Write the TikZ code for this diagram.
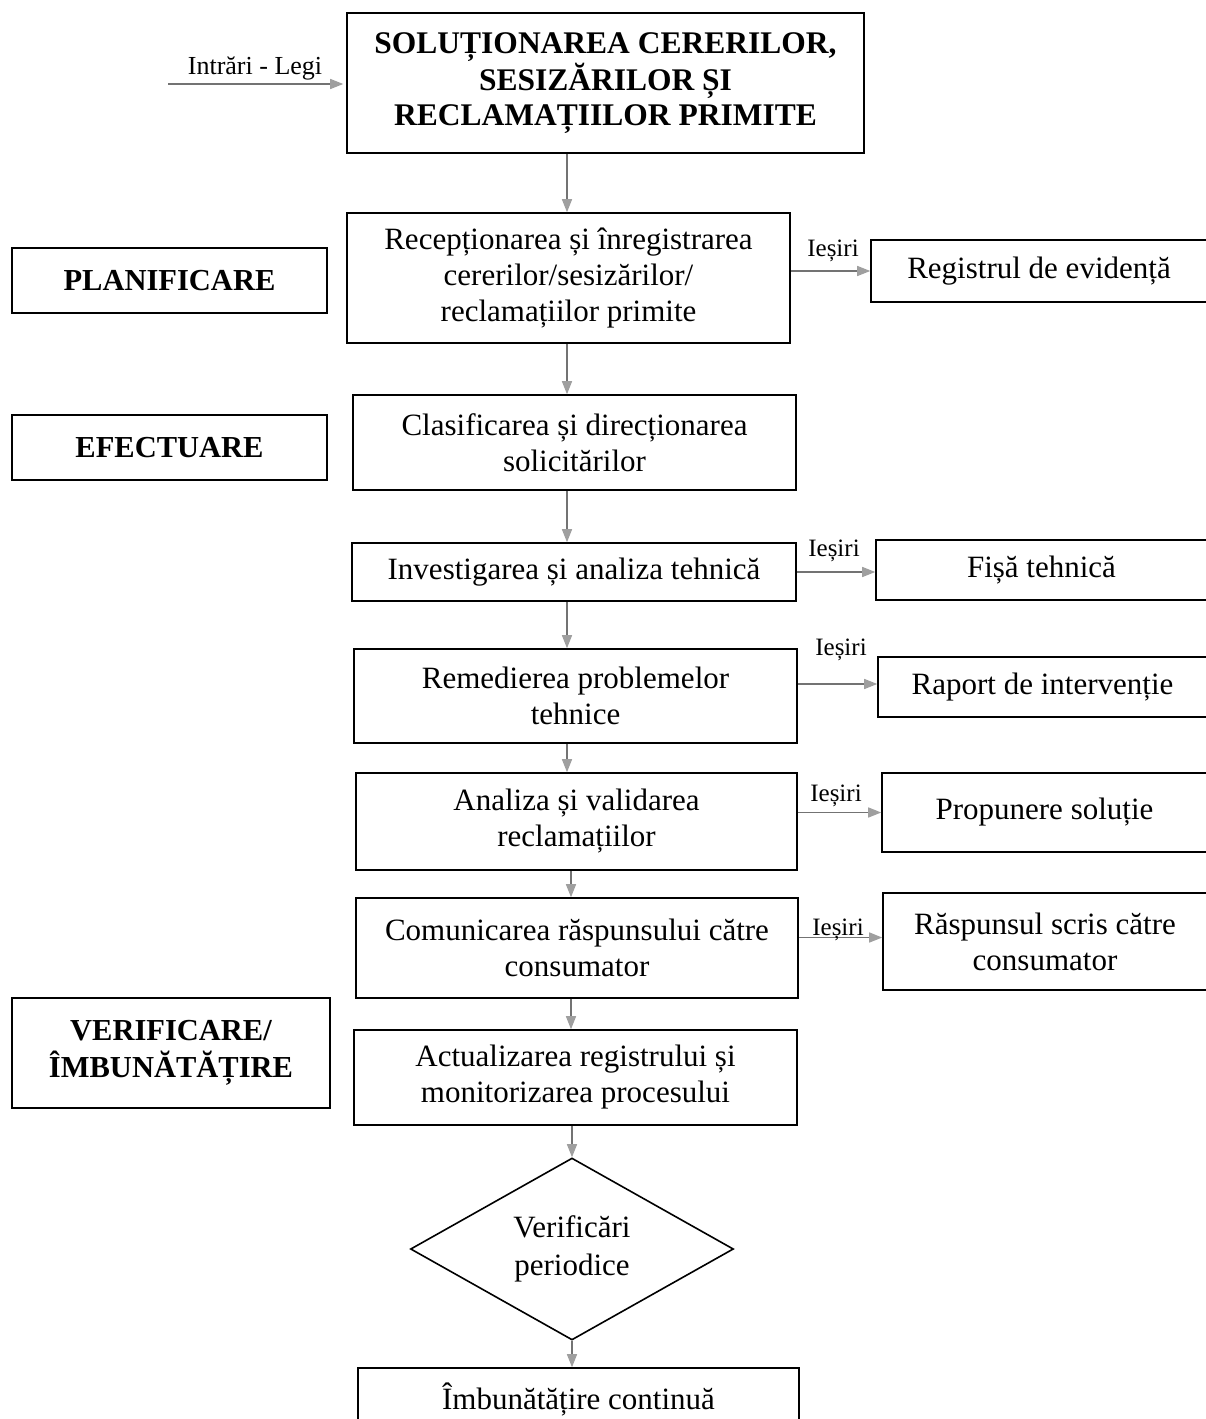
\documentclass[tikz,border=0pt]{standalone}
\usepackage{fontspec}
\setmainfont{Liberation Serif}
\usetikzlibrary{shapes.geometric,arrows.meta,calc}
\begin{document}
\begin{tikzpicture}[x=1pt,y=-1pt,
  box/.style={draw=black, line width=1.6pt, rectangle, inner sep=0pt, align=center,
    font=\fontsize{31}{36}\selectfont},
  phase/.style={box, font=\bfseries\fontsize{30.5}{37}\selectfont},
  arr/.style={draw=gray!90!black, line width=1.3pt,
    -{Triangle[length=13pt,width=10pt,color=gray!75]}},
  lbl/.style={font=\fontsize{25}{28}\selectfont, inner sep=0pt}]
\useasboundingbox (0,0) rectangle (1205,1419);
\fill[white] (0,0) rectangle (1205,1419);

% main flow
\node[box, font=\bfseries\fontsize{31.5}{35}\selectfont, minimum width=517pt, minimum height=140pt] (top) at (605.5,83)
  {SOLUȚIONAREA CERERILOR,\\SESIZĂRILOR ȘI\\RECLAMAȚIILOR PRIMITE};
\node[box, minimum width=443pt, minimum height=130pt] (b2) at (568.5,278)
  {Recepționarea și înregistrarea\\cererilor/sesizărilor/\\reclamațiilor primite};
\node[box, minimum width=443pt, minimum height=95pt] (b3) at (574.5,442.5)
  {Clasificarea și direcționarea\\solicitărilor};
\node[box, minimum width=444pt, minimum height=58pt] (b4) at (574,572)
  {Investigarea și analiza tehnică};
\node[box, minimum width=443pt, minimum height=94pt] (b5) at (575.5,696)
  {Remedierea problemelor\\tehnice};
\node[box, minimum width=441pt, minimum height=97pt] (b6) at (576.5,821.5)
  {Analiza și validarea\\reclamațiilor};
\node[box, minimum width=442pt, minimum height=100pt] (b7) at (577,948)
  {Comunicarea răspunsului către\\consumator};
\node[box, minimum width=443pt, minimum height=95pt] (b8) at (575.5,1077.5)
  {Actualizarea registrului și\\monitorizarea procesului};
\node[box, diamond, aspect=1.77, minimum width=323pt, minimum height=182pt,
  font=\fontsize{31}{38}\selectfont] (dia) at (572,1249)
  {Verificări\\periodice};
\node[box, minimum width=441pt, minimum height=62pt] (last) at (578.5,1399)
  {Îmbunătățire continuă};

% outputs
\node[box, minimum width=336pt, minimum height=62pt] (reg) at (1039,271) {Registrul de evidență};
\node[box, minimum width=331pt, minimum height=60pt] (fisa) at (1041.5,570) {Fișă tehnică};
\node[box, minimum width=329pt, minimum height=60pt] (rap) at (1042.5,687) {Raport de intervenție};
\node[box, minimum width=325pt, minimum height=79pt] (prop) at (1044.5,812.5) {Propunere soluție};
\node[box, minimum width=324pt, minimum height=97pt] (rasp) at (1045,941.5) {Răspunsul scris către\\consumator};

% phases
\node[phase, minimum width=315pt, minimum height=65pt] (plan) at (169.5,280.5) {PLANIFICARE};
\node[phase, minimum width=315pt, minimum height=65pt] (efec) at (169.5,447.5) {EFECTUARE};
\node[phase, minimum width=318pt, minimum height=110pt] (verif) at (171,1053) {VERIFICARE/\\ÎMBUNĂTĂȚIRE};

% input
\coordinate (inA) at (168,84);
\draw[arr, shorten >=3pt] (inA) -- (inA -| top.west);
\node[lbl, font=\fontsize{26}{28}\selectfont] (inlbl) at (255,68) {Intrări - Legi};

% vertical connectors
\coordinate (xa) at (567,0);
\coordinate (xb) at (571,0);
\draw[arr] (top.south -| xa) -- (b2.north -| xa);
\draw[arr] (b2.south -| xa) -- (b3.north -| xa);
\draw[arr] (b3.south -| xa) -- (b4.north -| xa);
\draw[arr] (b4.south -| xa) -- (b5.north -| xa);
\draw[arr] (b5.south -| xa) -- (b6.north -| xa);
\draw[arr] (b6.south -| xb) -- (b7.north -| xb);
\draw[arr] (b7.south -| xb) -- (b8.north -| xb);
\draw[arr] (b8.south -| dia.north) -- (dia.north);
\draw[arr] (dia.south) -- (last.north -| dia.south);

% horizontal connectors
\draw[arr] (b2.east |- reg.west) -- (reg.west);
\draw[arr] (b4.east) -- (b4.east -| fisa.west);
\draw[arr] ([yshift=3pt]b5.east |- rap.west) -- ([yshift=3pt]rap.west);
\draw[arr] (b6.east |- prop.west) -- (prop.west);
\draw[arr] ([yshift=4pt]b7.east |- rasp.west) -- ([yshift=4pt]rasp.west);

\node[lbl] (l1) at (833,251) {Ieșiri};
\node[lbl] (l2) at (834,551) {Ieșiri};
\node[lbl] (l3) at (841,650) {Ieșiri};
\node[lbl] (l4) at (836,796) {Ieșiri};
\node[lbl] (l5) at (838,930) {Ieșiri};
\end{tikzpicture}
\end{document}
